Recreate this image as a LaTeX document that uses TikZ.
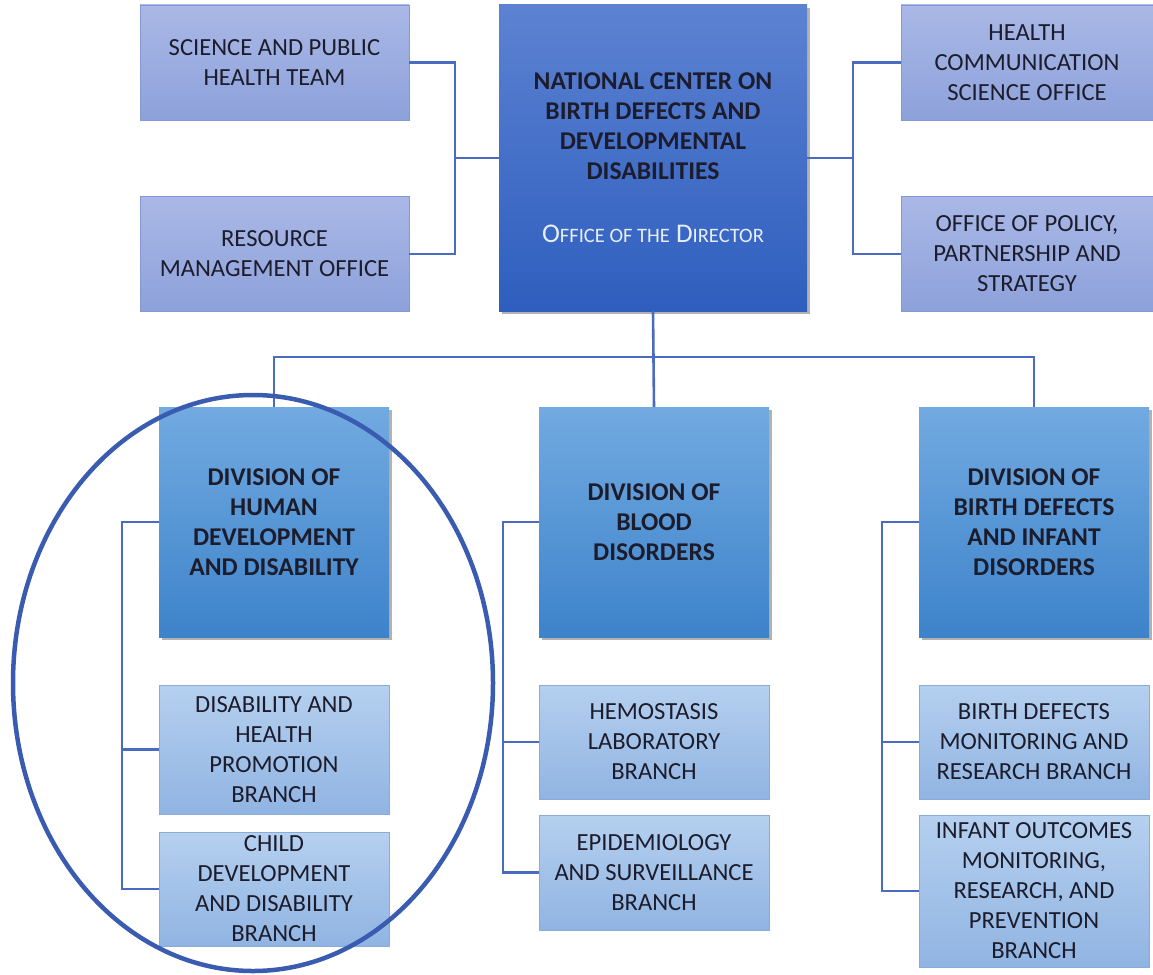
\documentclass[tikz,border=0pt]{standalone}
\usepackage{fontspec}
\setmainfont{Carlito}
\usetikzlibrary{shadows,calc}
\definecolor{conn}{HTML}{4A6BBF}
\definecolor{ellc}{HTML}{3A5CB0}
\definecolor{txt}{HTML}{1C1C2C}
\definecolor{topA}{HTML}{A9B8E6}
\definecolor{topB}{HTML}{8DA1DA}
\definecolor{topE}{HTML}{8498D2}
\definecolor{ctrA}{HTML}{5C82D2}
\definecolor{ctrB}{HTML}{2E5EBE}
\definecolor{divA}{HTML}{72AAE1}
\definecolor{divB}{HTML}{3D83CA}
\definecolor{brA}{HTML}{B5D0EF}
\definecolor{brB}{HTML}{90B4E2}
\definecolor{brE}{HTML}{8AAAD8}
\definecolor{offc}{HTML}{E6EEFA}
\tikzset{
  basebox/.style={rectangle, inner sep=0pt, align=center, text=txt,
    font=\fontsize{24.6}{30}\selectfont},
  topbox/.style={basebox, top color=topA, bottom color=topB, draw=topE, line width=0.8pt,
    minimum width=269pt, minimum height=115pt},
  ctrbox/.style={basebox, top color=ctrA, bottom color=ctrB,
    drop shadow={shadow xshift=3pt, shadow yshift=-3pt, opacity=0.3, fill=black},
    minimum width=308pt, minimum height=306pt, font=\fontsize{25.6}{30}\selectfont\bfseries},
  divbox/.style={basebox, top color=divA, bottom color=divB,
    drop shadow={shadow xshift=3pt, shadow yshift=-3pt, opacity=0.3, fill=black},
    minimum width=230pt, minimum height=230pt, font=\fontsize{25.6}{30}\selectfont\bfseries},
  brbox/.style={basebox, top color=brA, bottom color=brB, draw=brE, line width=0.8pt,
    minimum width=230pt},
  connline/.style={draw=conn, line width=2.6pt},
  ringline/.style={draw=ellc, line width=4.5pt}
}
\begin{document}
\begin{tikzpicture}[x=1pt,y=1pt]
\useasboundingbox (0,0) rectangle (1153,-974);
% top row
\node[topbox] (sci) at (274.5,-62.5) {SCIENCE AND PUBLIC\\HEALTH TEAM};
\node[topbox] (res) at (274.5,-254) {RESOURCE\\MANAGEMENT OFFICE};
\node[topbox, minimum width=252pt] (hcs) at (1027,-62.5) {HEALTH\\COMMUNICATION\\SCIENCE OFFICE};
\node[topbox, minimum width=252pt] (pol) at (1027,-254) {OFFICE OF POLICY,\\PARTNERSHIP AND\\STRATEGY};
\node[ctrbox] (ctr) at (653,-158) {NATIONAL CENTER ON\\BIRTH DEFECTS AND\\DEVELOPMENTAL\\DISABILITIES\\[33pt]
  {\mdseries\fontsize{27}{30}\selectfont\color{offc}O{\fontsize{20.5}{30}\selectfont FFICE OF THE} D{\fontsize{20.5}{30}\selectfont IRECTOR}}};
% divisions
\node[divbox] (d1) at (274,-522) {DIVISION OF\\HUMAN\\DEVELOPMENT\\AND DISABILITY};
\node[divbox] (d2) at (654,-522) {DIVISION OF\\BLOOD\\DISORDERS};
\node[divbox] (d3) at (1034,-522) {DIVISION OF\\BIRTH DEFECTS\\AND INFANT\\DISORDERS};
% branches
\node[brbox, minimum height=129pt] (b11) at (274,-749.5) {DISABILITY AND\\HEALTH\\PROMOTION\\BRANCH};
\node[brbox, minimum height=114pt] (b12) at (274,-889) {CHILD\\DEVELOPMENT\\AND DISABILITY\\BRANCH};
\node[brbox, minimum height=114pt] (b21) at (654,-742) {HEMOSTASIS\\LABORATORY\\BRANCH};
\node[brbox, minimum height=115pt] (b22) at (654,-872.5) {EPIDEMIOLOGY\\AND SURVEILLANCE\\BRANCH};
\node[brbox, minimum height=114pt] (b31) at (1034,-742) {BIRTH DEFECTS\\MONITORING AND\\RESEARCH BRANCH};
\node[brbox, minimum height=152pt] (b32) at (1034,-891) {INFANT OUTCOMES\\MONITORING,\\RESEARCH, AND\\PREVENTION\\BRANCH};
% connector junctions
\coordinate (jl) at (455,-158);
\coordinate (jr) at (853,-158);
\coordinate (bl) at (274,-357);
\coordinate (br) at (1034,-357);
\coordinate (s1) at (122,-522);
\coordinate (s2) at (503,-522);
\coordinate (s3) at (882,-522);
% connectors
\draw[connline] (sci.east) -| (jl) |- (res.east);
\draw[connline] (jl) -- (ctr.west);
\draw[connline] (hcs.west) -| (jr) |- (pol.west);
\draw[connline] (jr) -- (ctr.east);
\draw[connline] (ctr.south) -- (d2.north);
\draw[connline] (d1.north) -- (bl) -- (br) -- (d3.north);
\draw[connline] (d1.west) -- (s1) |- (b12.west);
\draw[connline] (s1 |- b11.west) -- (b11.west);
\draw[connline] (d2.west) -- (s2) |- (b22.west);
\draw[connline] (s2 |- b21.west) -- (b21.west);
\draw[connline] (d3.west) -- (s3) |- (b32.west);
\draw[connline] (s3 |- b31.west) -- (b31.west);
% highlight ring
\draw[ringline] (253,-683) ellipse [x radius=240, y radius=288];
\end{tikzpicture}
\end{document}
